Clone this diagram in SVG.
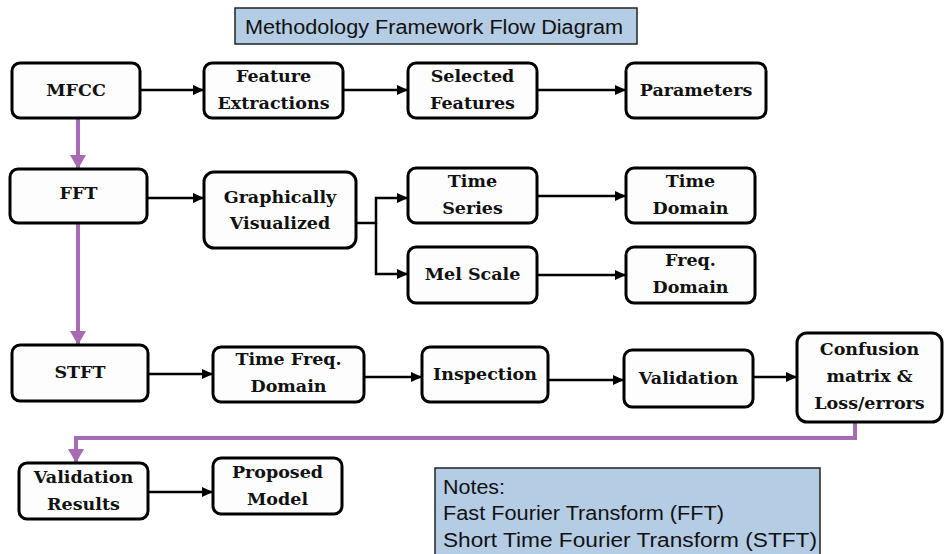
<svg xmlns="http://www.w3.org/2000/svg" width="944" height="554" viewBox="0 0 944 554">
<style>
.box{fill:#fdfdfd;stroke:#000;stroke-width:3}
.lbl{font-family:"DejaVu Serif","Liberation Serif",serif;font-weight:bold;font-size:17.5px;fill:#111;text-anchor:middle}
.note{font-family:"Liberation Sans",Arial,sans-serif;font-size:20px;fill:#111}
.blk{fill:none;stroke:#000;stroke-width:2.5}
.pur{fill:none;stroke:#a66bb4;stroke-width:4}
</style>
<defs>
<marker id="ah" markerUnits="userSpaceOnUse" markerWidth="12" markerHeight="10" refX="11" refY="5" orient="auto"><path d="M0,0 L11,5 L0,10 Z" fill="#000"/></marker>
<marker id="ap" markerUnits="userSpaceOnUse" markerWidth="16" markerHeight="16" refX="14" refY="8" orient="auto"><path d="M0,0 L14,8 L0,16 Z" fill="#a66bb4"/></marker>
</defs>
<g id="title"><rect x="235" y="8" width="402" height="36" fill="#b4cce4" stroke="#222" stroke-width="1.5"/><text class="note" x="245" y="34" textLength="378" lengthAdjust="spacingAndGlyphs" font-size="19.5">Methodology Framework Flow Diagram</text></g>
<g id="connectors">
<path class="blk" d="M140,90 H204" marker-end="url(#ah)"/>
<path class="blk" d="M343,90 H408" marker-end="url(#ah)"/>
<path class="blk" d="M537,90 H626" marker-end="url(#ah)"/>
<path class="blk" d="M147,198 H204" marker-end="url(#ah)"/>
<path class="blk" d="M356,223 H376 V198 H408" marker-end="url(#ah)"/>
<path class="blk" d="M376,223 V274 H408" marker-end="url(#ah)"/>
<path class="blk" d="M537,196 H626" marker-end="url(#ah)"/>
<path class="blk" d="M537,275 H626" marker-end="url(#ah)"/>
<path class="blk" d="M148,374 H213" marker-end="url(#ah)"/>
<path class="blk" d="M364,377 H422" marker-end="url(#ah)"/>
<path class="blk" d="M548,380 H624" marker-end="url(#ah)"/>
<path class="blk" d="M753,377 H797" marker-end="url(#ah)"/>
<path class="blk" d="M148,492 H213" marker-end="url(#ah)"/>
<path class="pur" d="M78,118 V169" marker-end="url(#ap)"/>
<path class="pur" d="M78,223 V345" marker-end="url(#ap)"/>
<path class="pur" d="M855,422 V438 H76 V463" marker-end="url(#ap)"/>
</g>
<g id="mfcc"><rect class="box" x="12" y="63" width="128" height="55" rx="8"/><text class="lbl" x="76" y="96">MFCC</text></g>
<g id="feature-extractions"><rect class="box" x="204" y="63" width="139" height="55" rx="8"/><text class="lbl" x="273.5" y="82">Feature</text><text class="lbl" x="273.5" y="109">Extractions</text></g>
<g id="selected-features"><rect class="box" x="408" y="63" width="129" height="55" rx="8"/><text class="lbl" x="472.5" y="82">Selected</text><text class="lbl" x="472.5" y="109">Features</text></g>
<g id="parameters"><rect class="box" x="626" y="63" width="140" height="55" rx="8"/><text class="lbl" x="696" y="96">Parameters</text></g>
<g id="fft"><rect class="box" x="10" y="169" width="137" height="54" rx="8"/><text class="lbl" x="78.5" y="199">FFT</text></g>
<g id="graphically-visualized"><rect class="box" x="204" y="172" width="152" height="76" rx="10"/><text class="lbl" x="280" y="203">Graphically</text><text class="lbl" x="280" y="229">Visualized</text></g>
<g id="time-series"><rect class="box" x="408" y="168" width="129" height="55" rx="8"/><text class="lbl" x="472.5" y="187">Time</text><text class="lbl" x="472.5" y="214">Series</text></g>
<g id="mel-scale"><rect class="box" x="408" y="247" width="129" height="56" rx="8"/><text class="lbl" x="472.5" y="280">Mel Scale</text></g>
<g id="time-domain"><rect class="box" x="626" y="168" width="129" height="55" rx="8"/><text class="lbl" x="690.5" y="187">Time</text><text class="lbl" x="690.5" y="214">Domain</text></g>
<g id="freq-domain"><rect class="box" x="626" y="247" width="129" height="56" rx="8"/><text class="lbl" x="690.5" y="266">Freq.</text><text class="lbl" x="690.5" y="293">Domain</text></g>
<g id="stft"><rect class="box" x="12" y="345" width="136" height="56" rx="8"/><text class="lbl" x="80" y="378">STFT</text></g>
<g id="time-freq-domain"><rect class="box" x="213" y="347" width="151" height="55" rx="8"/><text class="lbl" x="288.5" y="365">Time Freq.</text><text class="lbl" x="288.5" y="392">Domain</text></g>
<g id="inspection"><rect class="box" x="422" y="347" width="126" height="55" rx="8"/><text class="lbl" x="485" y="380">Inspection</text></g>
<g id="validation"><rect class="box" x="624" y="350" width="129" height="57" rx="8"/><text class="lbl" x="688.5" y="384">Validation</text></g>
<g id="confusion"><rect class="box" x="797" y="333" width="145" height="89" rx="10"/><text class="lbl" x="869.5" y="355">Confusion</text><text class="lbl" x="869.5" y="382">matrix &amp;</text><text class="lbl" x="869.5" y="409">Loss/errors</text></g>
<g id="validation-results"><rect class="box" x="19" y="463" width="129" height="56" rx="8"/><text class="lbl" x="83.5" y="483">Validation</text><text class="lbl" x="83.5" y="510">Results</text></g>
<g id="proposed-model"><rect class="box" x="213" y="458" width="129" height="56" rx="8"/><text class="lbl" x="277.5" y="478">Proposed</text><text class="lbl" x="277.5" y="505">Model</text></g>
<g id="notes"><rect x="435" y="468" width="385" height="100" fill="#b4cce4" stroke="#222" stroke-width="1.5"/>
<text class="note" x="443" y="494" textLength="62" lengthAdjust="spacingAndGlyphs">Notes:</text>
<text class="note" x="443" y="520" textLength="281" lengthAdjust="spacingAndGlyphs">Fast Fourier Transform (FFT)</text>
<text class="note" x="443" y="547" textLength="374" lengthAdjust="spacingAndGlyphs">Short Time Fourier Transform (STFT)</text></g>
</svg>
